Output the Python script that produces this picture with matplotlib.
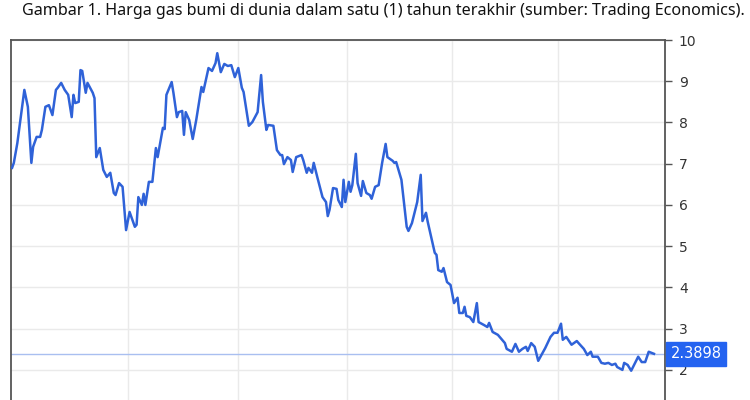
import numpy as np
import matplotlib
matplotlib.use("Agg")
import matplotlib.pyplot as plt

TITLE = ("Gambar 1. Harga gas bumi di dunia dalam satu (1) tahun terakhir "
         "(sumber: Trading Economics).")

# days since start of the 1-year window
days = [0, 1, 3, 7, 9, 11, 12, 14, 16, 17, 19, 21, 23, 25, 26, 28, 30, 32,
        34, 35, 36, 38, 39, 40, 42, 43, 46, 47, 48, 50, 52, 54, 56, 58, 59,
        61, 63, 65, 67, 70, 71, 72, 74, 75, 76, 78, 80, 82, 83, 86, 87, 88,
        91, 92, 94, 95, 97, 98, 99, 101, 103, 105, 108, 109, 112, 114, 116,
        117, 119, 121, 123, 125, 127, 129, 131, 132, 135, 137, 140, 142, 143,
        145, 146, 149, 151, 153, 154, 155, 157, 159, 160, 162, 165, 166, 168,
        169, 171, 172, 174, 177, 179, 180, 181, 183, 185, 186, 188, 189, 190,
        192, 193, 194, 196, 197, 199, 200, 202, 204, 205, 207, 209, 211, 213,
        214, 217, 218, 219, 222, 225, 226, 228, 231, 233, 234, 236, 237, 241,
        242, 243, 245, 246, 248, 250, 252, 254, 255, 257, 258, 259, 261, 263,
        265, 266, 269, 271, 272, 274, 277, 279, 281, 282, 285, 287, 289, 291,
        293, 294, 296, 298, 300, 304, 307, 309, 311, 313, 314, 316, 319, 322,
        323, 326, 328, 330, 331, 334, 336, 338, 340, 342, 344, 345, 348, 349,
        351, 353, 357, 359, 361, 363, 366]

# price, USD/MMBtu
price = [6.90, 7.02, 7.50, 8.79, 8.38, 7.02, 7.41, 7.65, 7.65, 7.82, 8.38,
         8.42, 8.18, 8.79, 8.84, 8.96, 8.79, 8.67, 8.13, 8.67, 8.47, 8.50,
         9.27, 9.25, 8.72, 8.96, 8.72, 8.59, 7.16, 7.38, 6.85, 6.68, 6.78,
         6.29, 6.24, 6.53, 6.44, 5.39, 5.83, 5.47, 5.52, 6.19, 6.00, 6.27,
         6.00, 6.56, 6.56, 7.38, 7.16, 7.87, 7.84, 8.67, 8.98, 8.72, 8.13,
         8.25, 8.28, 7.70, 8.25, 8.06, 7.60, 8.06, 8.86, 8.74, 9.32, 9.25,
         9.44, 9.68, 9.22, 9.42, 9.37, 9.39, 9.10, 9.32, 8.84, 8.74, 7.92,
         8.01, 8.25, 9.15, 8.50, 7.82, 7.94, 7.92, 7.33, 7.21, 7.21, 6.99,
         7.16, 7.09, 6.80, 7.16, 7.21, 7.09, 6.78, 6.90, 6.78, 7.02, 6.68,
         6.19, 6.07, 5.73, 5.88, 6.41, 6.39, 6.12, 5.95, 6.61, 6.07, 6.56,
         6.32, 6.48, 7.24, 6.53, 6.22, 6.58, 6.29, 6.24, 6.15, 6.44, 6.48,
         7.02, 7.48, 7.16, 7.07, 7.02, 7.04, 6.61, 5.47, 5.37, 5.56, 6.07,
         6.73, 5.61, 5.81, 5.59, 4.84, 4.79, 4.42, 4.38, 4.47, 4.13, 4.06,
         3.62, 3.75, 3.38, 3.38, 3.53, 3.31, 3.28, 3.16, 3.62, 3.16, 3.09,
         3.04, 3.14, 2.92, 2.85, 2.75, 2.65, 2.51, 2.44, 2.63, 2.44, 2.51,
         2.56, 2.46, 2.65, 2.56, 2.22, 2.53, 2.80, 2.90, 2.90, 3.12, 2.73,
         2.80, 2.61, 2.70, 2.65, 2.51, 2.36, 2.44, 2.32, 2.32, 2.17, 2.15,
         2.17, 2.12, 2.15, 2.07, 2.00, 2.17, 2.12, 1.98, 2.32, 2.19, 2.19,
         2.44, 2.3898]

last_price = 2.3898
y_ticks = [2, 3, 4, 5, 6, 7, 8, 9, 10]
month_grid = [66, 129, 191, 251, 311]

LINE = "#2f62d8"
BOX = "#2463f0"

fig = plt.figure(figsize=(7.5, 4), dpi=100)
ax = fig.add_axes([0.0147, 0.0, 0.872, 0.9])

ax.plot(days, price, color=LINE, linewidth=1.8, zorder=3)
ax.axhline(last_price, color="#a9bff0", linewidth=1.0, zorder=2)

ax.set_xlim(-0.6, 372.3)
ax.set_ylim(1.27, 10)

ax.set_xticks(month_grid)
ax.set_xticklabels([])
ax.tick_params(axis="x", length=0)
ax.set_yticks(y_ticks)
ax.yaxis.tick_right()
ax.tick_params(axis="y", length=5, width=1, color="#555555",
               labelsize=10, labelcolor="#333333", pad=5)
ax.grid(True, color="#eaeaea", linewidth=1.0, zorder=0)

for side in ["left", "top", "right"]:
    ax.spines[side].set_color("#555555")
    ax.spines[side].set_linewidth(1.3)
ax.spines["bottom"].set_visible(False)

# current-price tag on the right axis
ax.annotate(f"{last_price:.4f}", xy=(1.0, last_price),
            xycoords=("axes fraction", "data"),
            xytext=(4, 0), textcoords="offset points",
            ha="left", va="center", fontsize=10.5, color="white",
            bbox=dict(boxstyle="square,pad=0.3", fc=BOX, ec=BOX),
            zorder=5, annotation_clip=False)

fig.text(0.511, 0.972, TITLE, ha="center", va="center",
         fontsize=11.6, color="#111111", family="Noto Sans")

fig.savefig("out.png", dpi=100)
